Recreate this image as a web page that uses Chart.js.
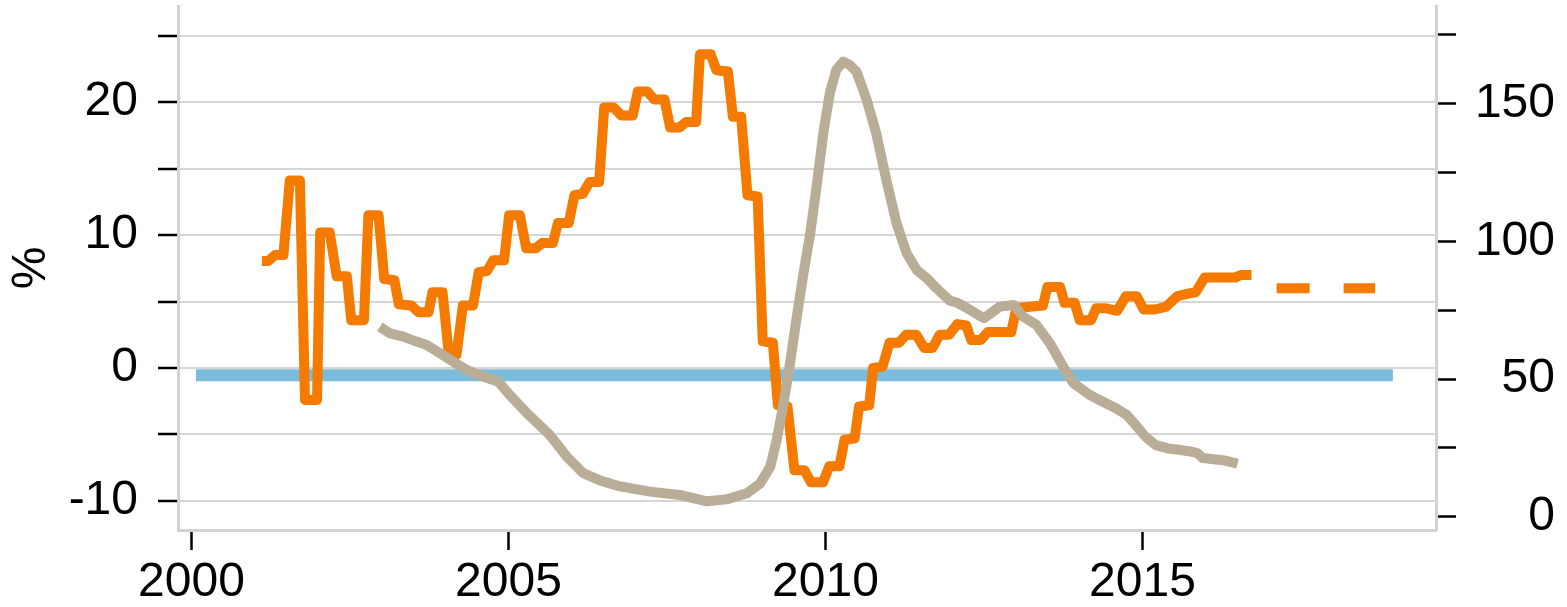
<!DOCTYPE html>
<html>
<head>
<meta charset="utf-8">
<script src="https://cdn.jsdelivr.net/npm/chart.js@4.4.1/dist/chart.umd.min.js"></script>
<style>
  html, body { margin: 0; padding: 0; background: #fff; }
  #wrap { width: 1567px; height: 607px; }
</style>
</head>
<body>
<div id="wrap"><canvas id="chart" width="1567" height="607"></canvas></div>
<script>
// orange series (left axis, %)
const orangeYears = [
  2001.11, 2001.21, 2001.32, 2001.45, 2001.55, 2001.71, 2001.79, 2001.98, 2002.03, 2002.18,
  2002.29, 2002.45, 2002.52, 2002.72, 2002.79, 2002.95, 2003.04, 2003.20, 2003.27, 2003.47,
  2003.58, 2003.74, 2003.80, 2003.96, 2004.06, 2004.18, 2004.28, 2004.44, 2004.53, 2004.66,
  2004.76, 2004.93, 2005.01, 2005.18, 2005.28, 2005.43, 2005.53, 2005.70, 2005.78, 2005.95,
  2006.04, 2006.17, 2006.28, 2006.43, 2006.51, 2006.66, 2006.78, 2006.96, 2007.04, 2007.19,
  2007.30, 2007.46, 2007.55, 2007.70, 2007.80, 2007.96, 2008.02, 2008.19, 2008.28, 2008.46,
  2008.54, 2008.67, 2008.77, 2008.93, 2009.01, 2009.17, 2009.25, 2009.40, 2009.51, 2009.67,
  2009.77, 2009.96, 2010.06, 2010.22, 2010.30, 2010.46, 2010.53, 2010.69, 2010.75, 2010.90,
  2011.01, 2011.16, 2011.27, 2011.43, 2011.56, 2011.69, 2011.80, 2011.95, 2012.08, 2012.22,
  2012.30, 2012.45, 2012.56, 2012.93, 2013.01, 2013.22, 2013.43, 2013.50, 2013.70, 2013.77,
  2013.93, 2014.01, 2014.19, 2014.27, 2014.41, 2014.60, 2014.74, 2014.91, 2015.02, 2015.19,
  2015.37, 2015.55, 2015.72, 2015.84, 2015.98, 2016.18, 2016.46, 2016.55, 2016.72
]
const orangeValues = [
  8.05, 8.05, 8.5, 8.5, 14.1, 14.1, -2.4, -2.4, 10.2, 10.2,
  6.9, 6.9, 3.6, 3.6, 11.5, 11.5, 6.7, 6.6, 4.8, 4.7,
  4.2, 4.2, 5.7, 5.7, 1.0, 1.0, 4.7, 4.7, 7.2, 7.3,
  8.1, 8.1, 11.5, 11.5, 9.0, 9.0, 9.4, 9.4, 10.9, 10.9,
  13.0, 13.1, 14.0, 14.0, 19.6, 19.6, 19.0, 19.0, 20.8, 20.8,
  20.2, 20.2, 18.1, 18.1, 18.5, 18.5, 23.6, 23.6, 22.4, 22.3,
  18.9, 18.9, 13.0, 12.9, 2.0, 1.9, -2.8, -2.9, -7.7, -7.7,
  -8.6, -8.6, -7.4, -7.4, -5.4, -5.3, -2.9, -2.8, 0.0, 0.1,
  1.9, 1.9, 2.5, 2.5, 1.5, 1.5, 2.5, 2.5, 3.3, 3.2,
  2.1, 2.1, 2.7, 2.7, 4.5, 4.6, 4.7, 6.1, 6.1, 4.9,
  4.9, 3.6, 3.6, 4.5, 4.5, 4.3, 5.4, 5.4, 4.4, 4.4,
  4.6, 5.4, 5.6, 5.7, 6.8, 6.8, 6.8, 7.0, 7.0
]

// orange projection (dashed)
const forecastYears = [2016.58, 2018.67]
const forecastValues = [6.0, 6.0]

// grey series (right axis)
const greyYears = [
  2002.97, 2003.13, 2003.34, 2003.55, 2003.71, 2003.92, 2004.13, 2004.34, 2004.60, 2004.84,
  2005.02, 2005.29, 2005.65, 2005.92, 2006.18, 2006.44, 2006.76, 2007.23, 2007.70, 2008.13,
  2008.44, 2008.76, 2008.97, 2009.13, 2009.23, 2009.33, 2009.44, 2009.55, 2009.65, 2009.76,
  2009.86, 2009.97, 2010.07, 2010.17, 2010.28, 2010.38, 2010.49, 2010.65, 2010.80, 2010.96,
  2011.12, 2011.28, 2011.44, 2011.60, 2011.75, 2011.96, 2012.07, 2012.18, 2012.50, 2012.75,
  2012.97, 2013.12, 2013.33, 2013.54, 2013.75, 2013.91, 2014.17, 2014.40, 2014.58, 2014.75,
  2014.87, 2015.05, 2015.21, 2015.40, 2015.61, 2015.80, 2015.87, 2015.95, 2016.30, 2016.50
]
const greyValues = [
  69.0, 66.6, 65.4, 63.6, 62.4, 59.4, 56.3, 53.3, 50.9, 49.0,
  44.2, 37.6, 29.7, 21.8, 15.8, 13.2, 11.0, 9.1, 7.9, 5.6,
  6.3, 8.5, 12.1, 18.2, 27.9, 40.0, 55.7, 73.0, 88.0, 103.0,
  120.0, 140.0, 154.0, 162.3, 165.3, 164.1, 161.6, 151.4, 139.3, 122.3,
  106.6, 95.7, 89.6, 86.6, 83.0, 78.5, 77.8, 76.5, 72.1, 76.3,
  76.9, 72.6, 69.6, 63.0, 54.5, 48.5, 44.2, 41.5, 39.4, 37.0,
  33.9, 29.0, 26.0, 24.8, 24.2, 23.5, 23.0, 21.3, 20.4, 19.3
]

// blue reference line (left axis)
const baseYears = [2000.07, 2018.95]
const baseValues = [-0.55, -0.55]

const xTicks = [2000, 2005, 2010, 2015]
const leftTicks = [-10, -5, 0, 5, 10, 15, 20, 25]
const rightTicks = [0, 25, 50, 75, 100, 125, 150, 175]

const toPoints = (xs, ys) => xs.map((x, i) => ({ x: x, y: ys[i] }))
const setTicks = (values) => (scale) => { scale.ticks = values.map((v) => ({ value: v })) }

// fixed axis sizes, no extra room for overhanging tick labels
const fixWidth = (w) => (scale) => {
  scale.width = w
  scale.paddingTop = 0
  scale.paddingBottom = 0
}
const fixHeight = (h) => (scale) => {
  scale.height = h
  scale.paddingLeft = 0
  scale.paddingRight = 0
}

Chart.defaults.font.family = '"Liberation Sans", Arial, sans-serif'
Chart.defaults.font.size = 48
Chart.defaults.color = "#000"

const axisGrey = "#d2d2d2"

new Chart(document.getElementById("chart"), {
  type: "line",
  data: {
    datasets: [
      {
        data: toPoints(greyYears, greyValues),
        yAxisID: "y2",
        borderColor: "#b9ad97",
        borderWidth: 10,
        borderJoinStyle: "round",
        pointRadius: 0,
      },
      {
        data: toPoints(orangeYears, orangeValues),
        yAxisID: "y",
        borderColor: "#f47a00",
        borderWidth: 10,
        borderJoinStyle: "round",
        pointRadius: 0,
      },
      {
        data: toPoints(forecastYears, forecastValues),
        yAxisID: "y",
        borderColor: "#f47a00",
        borderWidth: 10,
        borderDash: [33, 34],
        borderDashOffset: 33,
        borderCapStyle: "butt",
        pointRadius: 0,
      },
      {
        data: toPoints(baseYears, baseValues),
        yAxisID: "y",
        borderColor: "#7bbcdc",
        borderWidth: 12,
        borderCapStyle: "butt",
        pointRadius: 0,
      },
    ],
  },
  options: {
    responsive: false,
    animation: false,
    layout: { padding: { top: 6, right: 12, left: 0, bottom: 0 } },
    plugins: { legend: { display: false }, tooltip: { enabled: false } },
    scales: {
      x: {
        type: "linear",
        min: 1999.787,
        max: 2019.63,
        afterBuildTicks: setTicks(xTicks),
        afterFit: fixHeight(77),
        grid: { drawOnChartArea: false, tickLength: 20, tickColor: "#000", tickWidth: 2.5 },
        border: { color: axisGrey, width: 3 },
        ticks: { padding: 4, maxRotation: 0, callback: (v) => String(v) },
      },
      y: {
        position: "left",
        min: -12.19,
        max: 27.235,
        afterBuildTicks: setTicks(leftTicks),
        afterFit: fixWidth(178),
        grid: { color: "#d6d6d6", lineWidth: 2, tickLength: 20, tickColor: "#000", tickWidth: 2.5 },
        border: { color: axisGrey, width: 3 },
        ticks: { padding: 20, callback: (v) => (v % 10 === 0 ? String(v) : "") },
        title: { display: true, text: "%", padding: { top: 3, bottom: 0 } },
      },
      y2: {
        position: "right",
        min: -4.83,
        max: 185.5,
        afterBuildTicks: setTicks(rightTicks),
        afterFit: fixWidth(119),
        grid: { drawOnChartArea: false, tickLength: 20, tickColor: "#000", tickWidth: 2.5 },
        border: { color: axisGrey, width: 3 },
        ticks: { padding: 20, crossAlign: "far", callback: (v) => (v % 50 === 0 ? String(v) : "") },
      },
    },
  },
})
</script>
</body>
</html>
